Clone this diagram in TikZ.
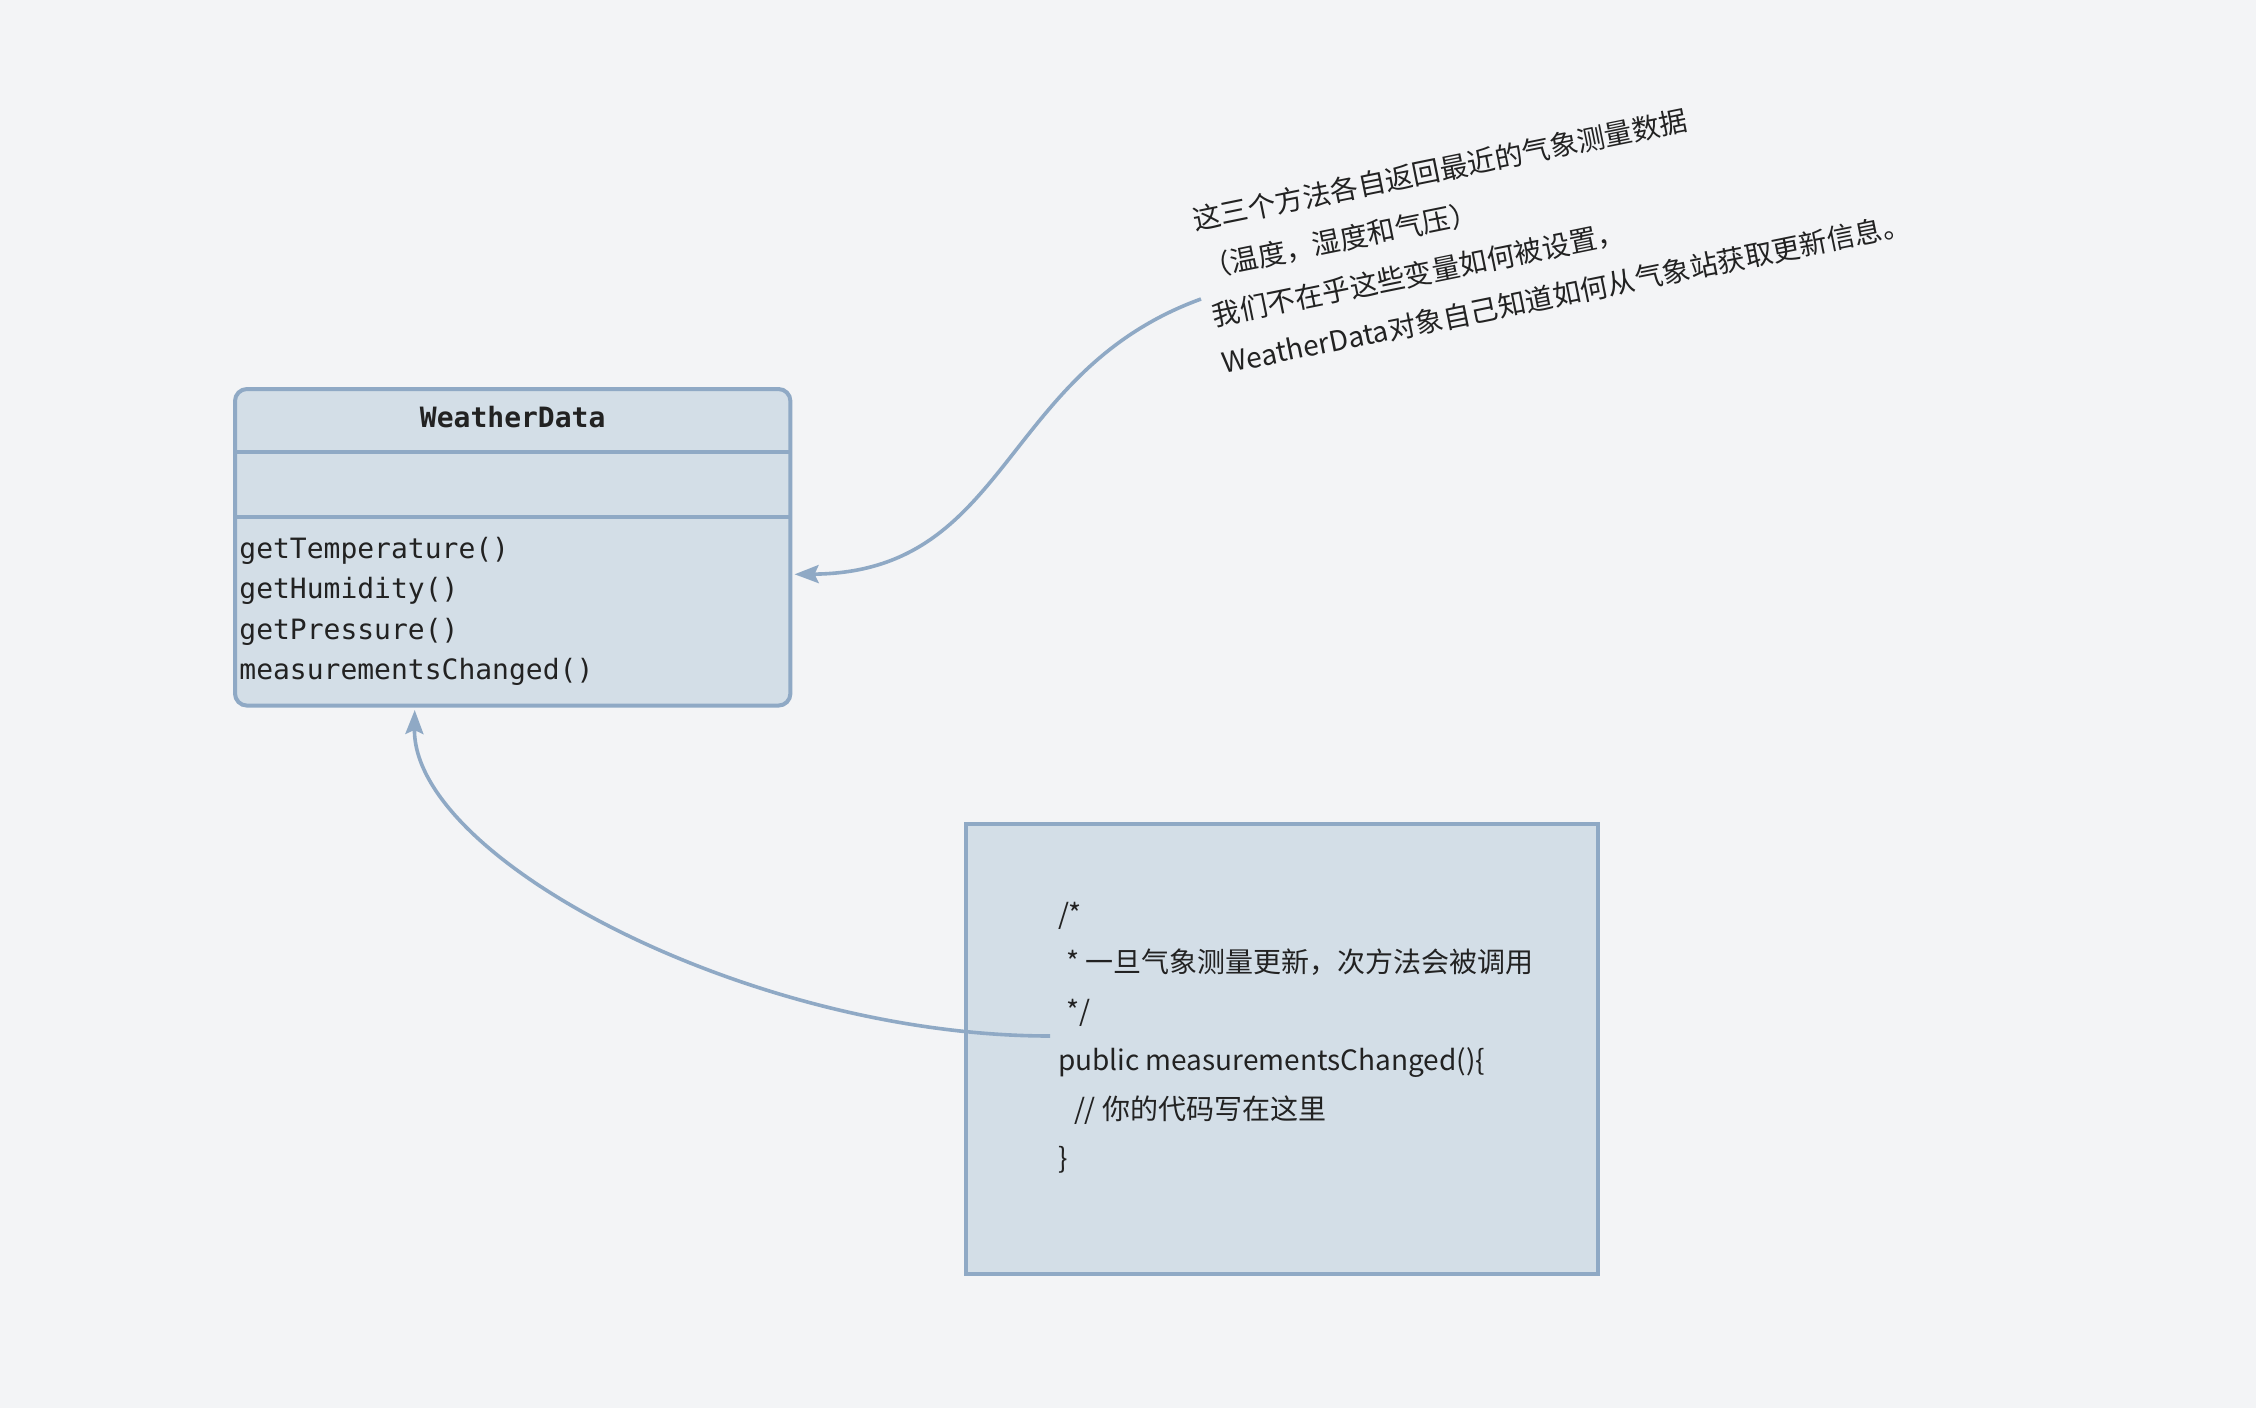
\documentclass[tikz,border=0pt]{standalone}
\usepackage{fontspec}
\setmainfont{Noto Sans CJK SC}
\newfontfamily\monofont{DejaVu Sans Mono}
\usepackage{tikz}
\usetikzlibrary{arrows.meta, positioning, calc}

\definecolor{bgcol}{RGB}{243,244,246}
\definecolor{boxfill}{RGB}{211,222,231}
\definecolor{boxline}{RGB}{143,169,197}
\definecolor{txtcol}{RGB}{34,34,34}

\begin{document}
\begin{tikzpicture}[
    x=1pt, y=-1pt,
    classbox/.style={rectangle, draw=boxline, fill=boxfill, line width=2pt,
                     rounded corners=6pt, minimum width=277.7pt, minimum height=158.3pt,
                     inner sep=0pt, anchor=north west},
    codebox/.style={rectangle, draw=boxline, fill=boxfill, line width=2pt,
                    minimum width=315.8pt, minimum height=225.2pt,
                    inner sep=0pt, anchor=north west},
    mono/.style={font=\monofont\fontsize{14}{20.3}\selectfont, text=txtcol,
                 inner sep=0pt},
    note/.style={font=\fontsize{14}{24.4}\selectfont, text=txtcol, align=left,
                 inner sep=0pt},
    sep/.style={draw=boxline, line width=2pt},
    arr/.style={-{Stealth[length=12pt, width=9pt, inset=2pt]}, draw=boxline,
                line width=1.8pt}
  ]

  \useasboundingbox (0,0) rectangle (1128,704);
  \fill[bgcol] (0,0) rectangle (1128,704);

  \node[classbox] (wd) at (116.5,193.5) {};
  \draw[sep] ($(wd.north west)+(0,32.4)$) -- ($(wd.north east)+(0,32.4)$);
  \draw[sep] ($(wd.north west)+(0,64.8)$) -- ($(wd.north east)+(0,64.8)$);
  \node[mono, font=\monofont\bfseries\fontsize{14}{20.3}\selectfont] (title)
    at ($(wd.north)+(0,15.1)$) {WeatherData};
  \node[mono, align=left, anchor=base west] (ops) at ($(wd.north west)+(3,146.4)$)
    {getTemperature()\\getHumidity()\\getPressure()\\measurementsChanged()};

  \node[codebox] (code) at (482,410.8) {};
  \node[note, anchor=base west] (codetxt) at (528.8,584)
    {/*\\
     \hspace{4pt}* 一旦气象测量更新，次方法会被调用\\
     \hspace{4pt}*/\\
     public measurementsChanged()\{\\
     \hspace{8pt}// 你的代码写在这里\\
     \}};

  \node[note, rotate=11.5, anchor=base west] (memo) at (612.1,187)
    {这三个方法各自返回最近的气象测量数据\\
     （温度，湿度和气压）\\
     我们不在乎这些变量如何被设置，\\
     WeatherData对象自己知道如何从气象站获取更新信息。};

  \coordinate (memoend) at (600.5,149.5);
  \coordinate (codeend) at (525,518);

  \draw[arr] (memoend) .. controls (500,186) and (505,286.2) .. ([xshift=1.1pt, yshift=-13.5pt]wd.east);
  \draw[arr] (codeend) .. controls (375,518) and (206.4,429.5) .. ([xshift=-49pt, yshift=-1.2pt]wd.south);

\end{tikzpicture}
\end{document}
